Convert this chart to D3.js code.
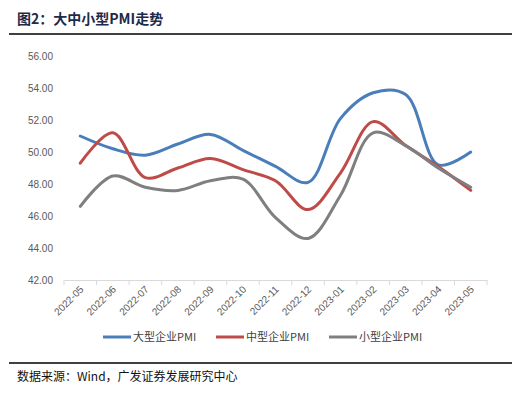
<!DOCTYPE html>
<html>
<head>
<meta charset="utf-8">
<script src="https://cdn.jsdelivr.net/npm/d3@7"></script>
<style>
  body { margin: 0; background: #fff; }
  svg { display: block; font-family: "Liberation Sans", Arial, sans-serif; }
</style>
</head>
<body>
<div id="chart"></div>
<script>
// data
const months = ["2022-05", "2022-06", "2022-07", "2022-08", "2022-09", "2022-10", "2022-11",
  "2022-12", "2023-01", "2023-02", "2023-03", "2023-04", "2023-05"];
const largePMI = [51.0, 50.2, 49.8, 50.5, 51.1, 50.1, 49.1, 48.1, 52.1, 53.7, 53.6, 49.2, 50.0];
const mediumPMI = [49.3, 51.2, 48.4, 49.0, 49.6, 48.9, 48.2, 46.4, 48.7, 51.9, 50.4, 49.1, 47.6];
const smallPMI = [46.6, 48.5, 47.8, 47.6, 48.2, 48.3, 45.9, 44.6, 47.3, 51.2, 50.4, 49.0, 47.8];
const yTicks = [42, 44, 46, 48, 50, 52, 54, 56];
const seriesNames = ["大型企业PMI", "中型企业PMI", "小型企业PMI"];
const colors = ["#4a7ebb", "#be4b48", "#7f7f7f"];

const W = 526, H = 396;
const plot = { left: 64, right: 487, top: 56, bottom: 280 };

const svg = d3.select("#chart").append("svg")
  .attr("width", W).attr("height", H);

// title + rules
svg.append("text")
  .attr("x", 17).attr("y", 24)
  .attr("font-family", "'Noto Sans CJK SC', sans-serif")
  .attr("font-size", 14).attr("font-weight", "bold")
  .attr("fill", "#1c2b4a")
  .text("图2：大中小型PMI走势");
svg.append("line").attr("x1", 9).attr("x2", 512).attr("y1", 34).attr("y2", 34)
  .attr("stroke", "#000").attr("stroke-width", 1.5);
svg.append("line").attr("x1", 9).attr("x2", 512).attr("y1", 363).attr("y2", 363)
  .attr("stroke", "#000").attr("stroke-width", 1.5);
svg.append("text")
  .attr("x", 17).attr("y", 381)
  .attr("font-family", "'Noto Sans CJK SC', sans-serif")
  .attr("font-size", 12).attr("fill", "#111")
  .text("数据来源：Wind，广发证券发展研究中心");

const x = d3.scaleBand().domain(months).range([plot.left, plot.right]);
const y = d3.scaleLinear().domain([42, 56]).range([plot.bottom, plot.top]);

// y axis (labels only)
const yAxis = svg.append("g")
  .attr("transform", `translate(${plot.left},0)`)
  .call(d3.axisLeft(y).tickValues(yTicks).tickFormat(d3.format(".2f")).tickSize(0).tickPadding(11));
yAxis.select(".domain").remove();
yAxis.selectAll("text").attr("fill", "#595959").attr("font-size", 10);

// x axis
const xAxis = svg.append("g")
  .attr("transform", `translate(0,${plot.bottom})`)
  .call(d3.axisBottom(x).tickSize(0).tickSizeOuter(0));
xAxis.select(".domain").attr("stroke", "#d9d9d9");
// tick marks at band boundaries
xAxis.selectAll(".bound")
  .data(months.concat(["end"]))
  .enter().append("line")
  .attr("class", "bound")
  .attr("x1", (d, i) => plot.left + i * x.step())
  .attr("x2", (d, i) => plot.left + i * x.step())
  .attr("y1", 0).attr("y2", 5)
  .attr("stroke", "#d9d9d9");
xAxis.selectAll(".tick text")
  .attr("fill", "#595959").attr("font-size", 10)
  .attr("text-anchor", "end")
  .attr("dy", 0).attr("y", 0)
  .attr("transform", "translate(4,10) rotate(-45)");

// lines
const allSeries = [largePMI, mediumPMI, smallPMI];
const line = d3.line()
  .x((d, i) => x(months[i]) + x.bandwidth() / 2)
  .y(d => y(d))
  .curve(d3.curveCatmullRom.alpha(0.5));

svg.selectAll(".series")
  .data(allSeries)
  .enter().append("path")
  .attr("class", "series")
  .attr("d", line)
  .attr("fill", "none")
  .attr("stroke", (d, i) => colors[i])
  .attr("stroke-width", 3)
  .attr("stroke-linecap", "round");

// legend
const legendX = [103, 216, 329];
const legend = svg.selectAll(".legend")
  .data(seriesNames)
  .enter().append("g")
  .attr("class", "legend")
  .attr("transform", (d, i) => `translate(${legendX[i]},337)`);
legend.append("line")
  .attr("x1", 0).attr("x2", 28).attr("y1", 0).attr("y2", 0)
  .attr("stroke", (d, i) => colors[i]).attr("stroke-width", 3);
legend.append("text")
  .attr("x", 30).attr("y", 4)
  .attr("font-family", "'Noto Sans CJK SC', sans-serif")
  .attr("font-size", 11).attr("fill", "#404040")
  .text(d => d);
</script>
</body>
</html>
